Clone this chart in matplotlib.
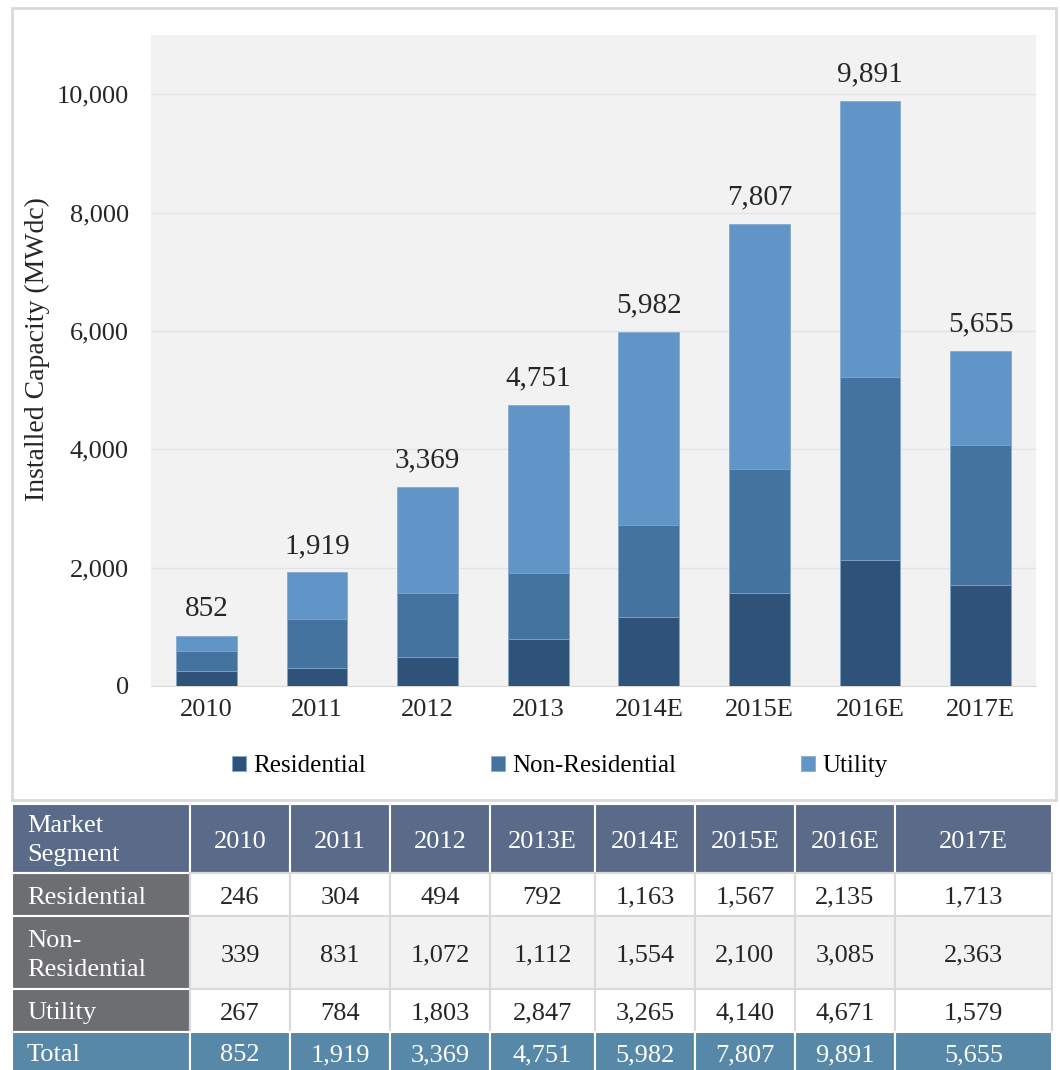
"""
Installed capacity by market segment (stacked bars) with data table below.
"""

import matplotlib.pyplot as plt
from matplotlib.patches import Rectangle

plt.rcParams['font.family'] = ['Liberation Serif', 'DejaVu Serif']

# Data
chart_years = ['2010', '2011', '2012', '2013', '2014E', '2015E', '2016E', '2017E']
table_years = ['2010', '2011', '2012', '2013E', '2014E', '2015E', '2016E', '2017E']
residential = [246, 304, 494, 792, 1163, 1567, 2135, 1713]
non_residential = [339, 831, 1072, 1112, 1554, 2100, 3085, 2363]
utility = [267, 784, 1803, 2847, 3265, 4140, 4671, 1579]
totals = [852, 1919, 3369, 4751, 5982, 7807, 9891, 5655]
segments = ['Residential', 'Non-Residential', 'Utility']
row_labels = ['Residential', 'Non-\nResidential', 'Utility', 'Total']

colors = ['#2f5279', '#44739f', '#6195c8']
W, H = 1060, 1070

fig = plt.figure(figsize=(W / 100, H / 100), dpi=100)


def px_axes(x0, y0, x1, y1):
    # axes from pixel box (top-left origin)
    return fig.add_axes([x0 / W, 1 - y1 / H, (x1 - x0) / W, (y1 - y0) / H])


# Outer frame around the chart
frame = px_axes(0, 0, W, H)
frame.set_xlim(0, W)
frame.set_ylim(H, 0)
frame.axis('off')
frame.add_patch(Rectangle((12, 8), 1044, 792, fill=False, edgecolor='#d9d9d9', linewidth=2))

# Chart
ax = px_axes(151, 35, 1036, 686)
ax.set_facecolor('#f2f2f2')
x = range(len(chart_years))
bottom = [0] * len(x)
for vals, c, name in zip([residential, non_residential, utility], colors, segments):
    ax.bar(x, vals, width=0.55, bottom=bottom, color=c, label=name,
           edgecolor='#7fa6cc', linewidth=0.5, zorder=3)
    bottom = [b + v for b, v in zip(bottom, vals)]

for i, t in enumerate(totals):
    ax.text(i, t + 330, f'{t:,}', ha='center', va='baseline', fontsize=21, color='#262626')

ax.set_xlim(-0.5, len(x) - 0.5)
ax.set_ylim(0, 11000)
ax.set_yticks(range(0, 10001, 2000))
ax.set_yticklabels([f'{v:,}' for v in range(0, 10001, 2000)], fontsize=19, color='#262626')
ax.set_xticks(list(x))
ax.set_xticklabels(chart_years, fontsize=19, color='#262626')
ax.tick_params(length=0, pad=9)
ax.tick_params(axis='y', pad=16)
ax.grid(axis='y', color='#e1e3e8', linewidth=1, zorder=0)
for s in ['top', 'right', 'left']:
    ax.spines[s].set_visible(False)
ax.spines['bottom'].set_color('#d9d9d9')
ax.set_ylabel('Installed Capacity (MWdc)', fontsize=20, color='#262626')
ax.yaxis.set_label_coords(-(151 - 50) / 885, 0.517)

ax.legend(loc='center', bbox_to_anchor=((560 - 151) / 885, -(766 - 686) / 651), ncol=3,
          frameon=False, fontsize=18, handlelength=0.55, handleheight=0.55,
          handletextpad=0.3, columnspacing=5.0)

# Table
col_edges = [12, 190, 290, 390, 490, 595, 695, 795, 895, 1052]
row_edges = [804, 873, 916, 989, 1032, 1072]
head_c = '#5a6b8a'
label_c = '#6d6e71'
total_c = '#5888a8'
grid_c = '#d9d9d9'

tax = px_axes(0, 0, W, H)
tax.set_xlim(0, W)
tax.set_ylim(H, 0)
tax.axis('off')

rows = [residential, non_residential, utility, totals]
n_rows = len(rows) + 1
for r in range(n_rows):
    y0, y1 = row_edges[r], row_edges[r + 1]
    ym = (y0 + y1) / 2 + 3
    for c in range(len(col_edges) - 1):
        x0, x1 = col_edges[c], col_edges[c + 1]
        if r == 0:
            fc, ec = head_c, 'white'
        elif r == n_rows - 1:
            fc, ec = total_c, 'white'
        elif c == 0:
            fc, ec = label_c, 'white'
        else:
            fc = '#f2f2f2' if r == 2 else 'white'
            ec = grid_c
        tax.add_patch(Rectangle((x0, y0), x1 - x0, y1 - y0, facecolor=fc,
                                edgecolor=ec, linewidth=1.5))
        xm = (x0 + x1) / 2
        if r == 0:
            if c == 0:
                tax.text(x0 + 15, ym - 1, 'Market\nSegment', ha='left', va='center',
                         fontsize=19, color='white', linespacing=1.4)
            else:
                tax.text(xm, ym, table_years[c - 1], ha='center', va='center',
                         fontsize=19, color='white')
        else:
            txt_c = 'white' if (c == 0 or r == n_rows - 1) else '#262626'
            if c == 0:
                tax.text(x0 + 15, ym, row_labels[r - 1], ha='left', va='center',
                         fontsize=19, color='white', linespacing=1.4)
            else:
                tax.text(xm, ym, f'{rows[r - 1][c - 1]:,}', ha='center', va='center',
                         fontsize=19, color=txt_c)

plt.savefig('out.png', dpi=100)
plt.close()
